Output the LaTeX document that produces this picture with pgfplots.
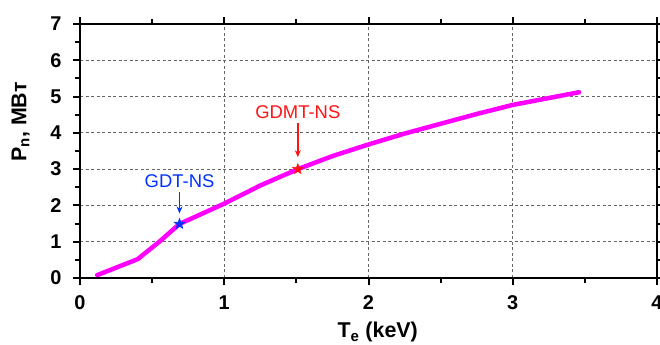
\documentclass[border=0pt]{standalone}
\usepackage{pgfplots}
\pgfplotsset{compat=1.18}
\usetikzlibrary{arrows.meta}
\usepackage{fontspec}
\setmainfont{Liberation Sans}
\definecolor{mag}{RGB}{255,0,255}
\definecolor{gblue}{RGB}{0,51,255}
\definecolor{gred}{RGB}{255,20,20}
\pgfdeclareplotmark{fstar}{%
  \pgfpathmoveto{\pgfpointpolar{90}{\pgfplotmarksize}}%
  \pgfpathlineto{\pgfpointpolar{126}{0.42\pgfplotmarksize}}%
  \pgfpathlineto{\pgfpointpolar{162}{\pgfplotmarksize}}%
  \pgfpathlineto{\pgfpointpolar{198}{0.42\pgfplotmarksize}}%
  \pgfpathlineto{\pgfpointpolar{234}{\pgfplotmarksize}}%
  \pgfpathlineto{\pgfpointpolar{270}{0.42\pgfplotmarksize}}%
  \pgfpathlineto{\pgfpointpolar{306}{\pgfplotmarksize}}%
  \pgfpathlineto{\pgfpointpolar{342}{0.42\pgfplotmarksize}}%
  \pgfpathlineto{\pgfpointpolar{18}{\pgfplotmarksize}}%
  \pgfpathlineto{\pgfpointpolar{54}{0.42\pgfplotmarksize}}%
  \pgfpathclose
  \pgfusepathqfillstroke}
\begin{document}
\begin{tikzpicture}
\useasboundingbox (-80bp,-67bp) rectangle (580bp,278bp);
\clip (-80bp,-67bp) rectangle (580bp,278bp);
\begin{axis}[
  scale only axis,
  width=577bp, height=254bp,
  xmin=0, xmax=4, ymin=0, ymax=7,
  xtick={0,1,2,3,4}, ytick={0,1,...,7},
  minor xtick={0.5,1.5,2.5,3.5},
  minor ytick={0.5,1.5,...,6.5},
  grid=major,
  major grid style={gray!80!black, dashed, line width=0.8bp, dash pattern=on 3bp off 2.5bp},
  axis line style={line width=2.2bp},
  tick style={black, line width=2bp},
  tick align=outside,
  major tick length=7bp, minor tick length=5bp,
  /pgf/number format/assume math mode=true,
  ticklabel style={font=\fontsize{20}{24}\selectfont\bfseries},
  xticklabel style={yshift=-7bp},
  yticklabel style={xshift=-8bp},
  label style={font=\fontsize{21.5}{26}\selectfont\bfseries},
  xlabel={T\textsubscript{e} (keV)},
  ylabel={P\textsubscript{n}, МВт},
  xlabel style={at={(axis description cs:0.516,-0.236)}, anchor=base},
  ylabel style={at={(axis description cs:-0.103,0.614)}, anchor=center},
  clip=false,
]
\addplot[mag, line width=4.5bp, line cap=round, line join=round] coordinates {
(0.12,0.08) (0.40,0.52) (0.55,1.00) (0.69,1.49) (1.0,2.05) (1.25,2.55)
(1.51,3.0) (1.75,3.36) (2.0,3.68) (2.25,3.98) (2.5,4.25) (2.75,4.52) (3.0,4.77) (3.25,4.96) (3.46,5.12)
};
\addplot[only marks, mark=fstar, mark size=5.5bp, gblue, line width=0.5bp] coordinates {(0.69,1.49)};
\addplot[only marks, mark=fstar, mark size=5.5bp, gred, line width=0.5bp] coordinates {(1.51,3.0)};
\node[gblue, font=\fontsize{18.5}{22}\selectfont] at (axis cs:0.69,2.68) {GDT-NS};
\draw[gblue, line width=1.5bp, -{Stealth[length=7bp,width=6bp]}] (axis cs:0.69,2.37) -- (axis cs:0.69,1.78);
\node[gred, font=\fontsize{18.5}{22}\selectfont] at (axis cs:1.51,4.58) {GDMT-NS};
\draw[gred, line width=1.5bp, -{Stealth[length=7bp,width=6bp]}] (axis cs:1.51,4.27) -- (axis cs:1.51,3.33);
\end{axis}
\end{tikzpicture}
\end{document}
